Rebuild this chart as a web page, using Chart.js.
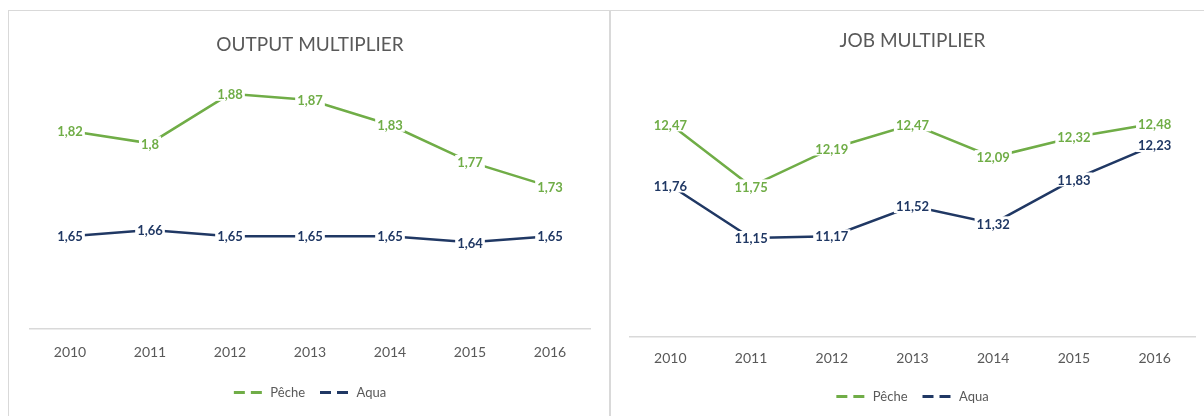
<!DOCTYPE html>
<html>
<head>
<meta charset="utf-8">
<script src="https://cdn.jsdelivr.net/npm/chart.js@4.4.0/dist/chart.umd.min.js"></script>
<style>
  html, body { margin: 0; padding: 0; background: #fff; overflow: hidden; width: 1204px; height: 416px; }
  .panel { position: absolute; top: 10px; border: 1px solid #d9d9d9; border-bottom: none; background: #fff; }
  #p1 { left: 8px; width: 600px; height: 420px; }
  #p2 { left: 610px; width: 600px; height: 420px; }
  canvas { display: block; }
</style>
</head>
<body>
<div class="panel" id="p1"><canvas id="outputChart" width="600" height="420"></canvas></div>
<div class="panel" id="p2"><canvas id="jobChart" width="593" height="420"></canvas></div>
<script>
const years = ['2010', '2011', '2012', '2013', '2014', '2015', '2016']
const seriesNames = ['Pêche', 'Aqua']

const outputPeche = [1.82, 1.80, 1.88, 1.87, 1.83, 1.77, 1.73]
const outputAqua = [1.65, 1.66, 1.65, 1.65, 1.65, 1.64, 1.65]

const jobPeche = [12.47, 11.75, 12.19, 12.47, 12.09, 12.32, 12.48]
const jobAqua = [11.76, 11.15, 11.17, 11.52, 11.32, 11.83, 12.23]

const GREEN = '#70ad47'
const NAVY = '#203864'
const GREY = '#595959'

// labels sit on the points with a white box behind, like Excel's "center" labels
const valueLabels = {
    id: 'valueLabels',
    afterDatasetsDraw(chart) {
        const ctx = chart.ctx
        ctx.save()
        ctx.font = 'bold 13px Lato'
        ctx.textAlign = 'center'
        ctx.textBaseline = 'middle'
        chart.data.datasets.forEach((ds, i) => {
            chart.getDatasetMeta(i).data.forEach((pt, j) => {
                const txt = String(ds.data[j]).replace('.', ',')
                const w = ctx.measureText(txt).width
                ctx.fillStyle = '#fff'
                ctx.fillRect(pt.x - w / 2 - 2, pt.y - 7, w + 4, 14)
                ctx.fillStyle = ds.borderColor
                ctx.fillText(txt, pt.x, pt.y + 1)
            })
        })
        ctx.restore()
    }
}

function makeChart(canvasId, title, peche, aqua, yMin, yMax, lay) {
    const ctx = document.getElementById(canvasId).getContext('2d')
    return new Chart(ctx, {
        type: 'line',
        data: {
            labels: years,
            datasets: [
                { label: seriesNames[0], data: peche, borderColor: GREEN, backgroundColor: GREEN, borderWidth: 2.5, pointRadius: 0, tension: 0 },
                { label: seriesNames[1], data: aqua, borderColor: NAVY, backgroundColor: NAVY, borderWidth: 2.5, pointRadius: 0, tension: 0 }
            ]
        },
        options: {
            responsive: false,
            animation: false,
            layout: { padding: { left: lay.left, right: lay.right, top: 0, bottom: lay.bottom } },
            scales: {
                x: {
                    offset: true,
                    grid: { display: false, drawTicks: false },
                    border: { display: true, color: '#d9d9d9', width: 1.5 },
                    ticks: { color: GREY, font: { family: 'Lato', size: 14 }, padding: lay.tickPad },
                    afterFit(scale) { scale.height = lay.axisH }
                },
                y: { display: false, min: yMin, max: yMax }
            },
            plugins: {
                title: {
                    display: true,
                    text: title,
                    color: GREY,
                    font: { family: 'Lato', size: 19, weight: 'normal' },
                    padding: { top: lay.titleTop, bottom: lay.titleBottom }
                },
                legend: {
                    position: 'bottom',
                    labels: {
                        color: GREY,
                        font: { family: 'Lato', size: 13 },
                        usePointStyle: true,
                        pointStyleWidth: 30,
                        padding: 15,
                        generateLabels(chart) {
                            return Chart.defaults.plugins.legend.labels.generateLabels(chart).map(l =>
                                Object.assign(l, { pointStyle: 'line', lineDash: [11, 6], lineWidth: 3 }))
                        }
                    }
                },
                tooltip: { enabled: false }
            }
        },
        plugins: [valueLabels]
    })
}

makeChart('outputChart', 'OUTPUT MULTIPLIER', outputPeche, outputAqua, 1.5, 1.935,
    { left: 21, right: 19, bottom: 22, tickPad: 15, axisH: 42, titleTop: 22, titleBottom: 4 })
makeChart('jobChart', 'JOB MULTIPLIER', jobPeche, jobAqua, 10, 13.22,
    { left: 19, right: 9, bottom: 18, tickPad: 13, axisH: 38, titleTop: 18, titleBottom: 8 })
</script>
</body>
</html>
